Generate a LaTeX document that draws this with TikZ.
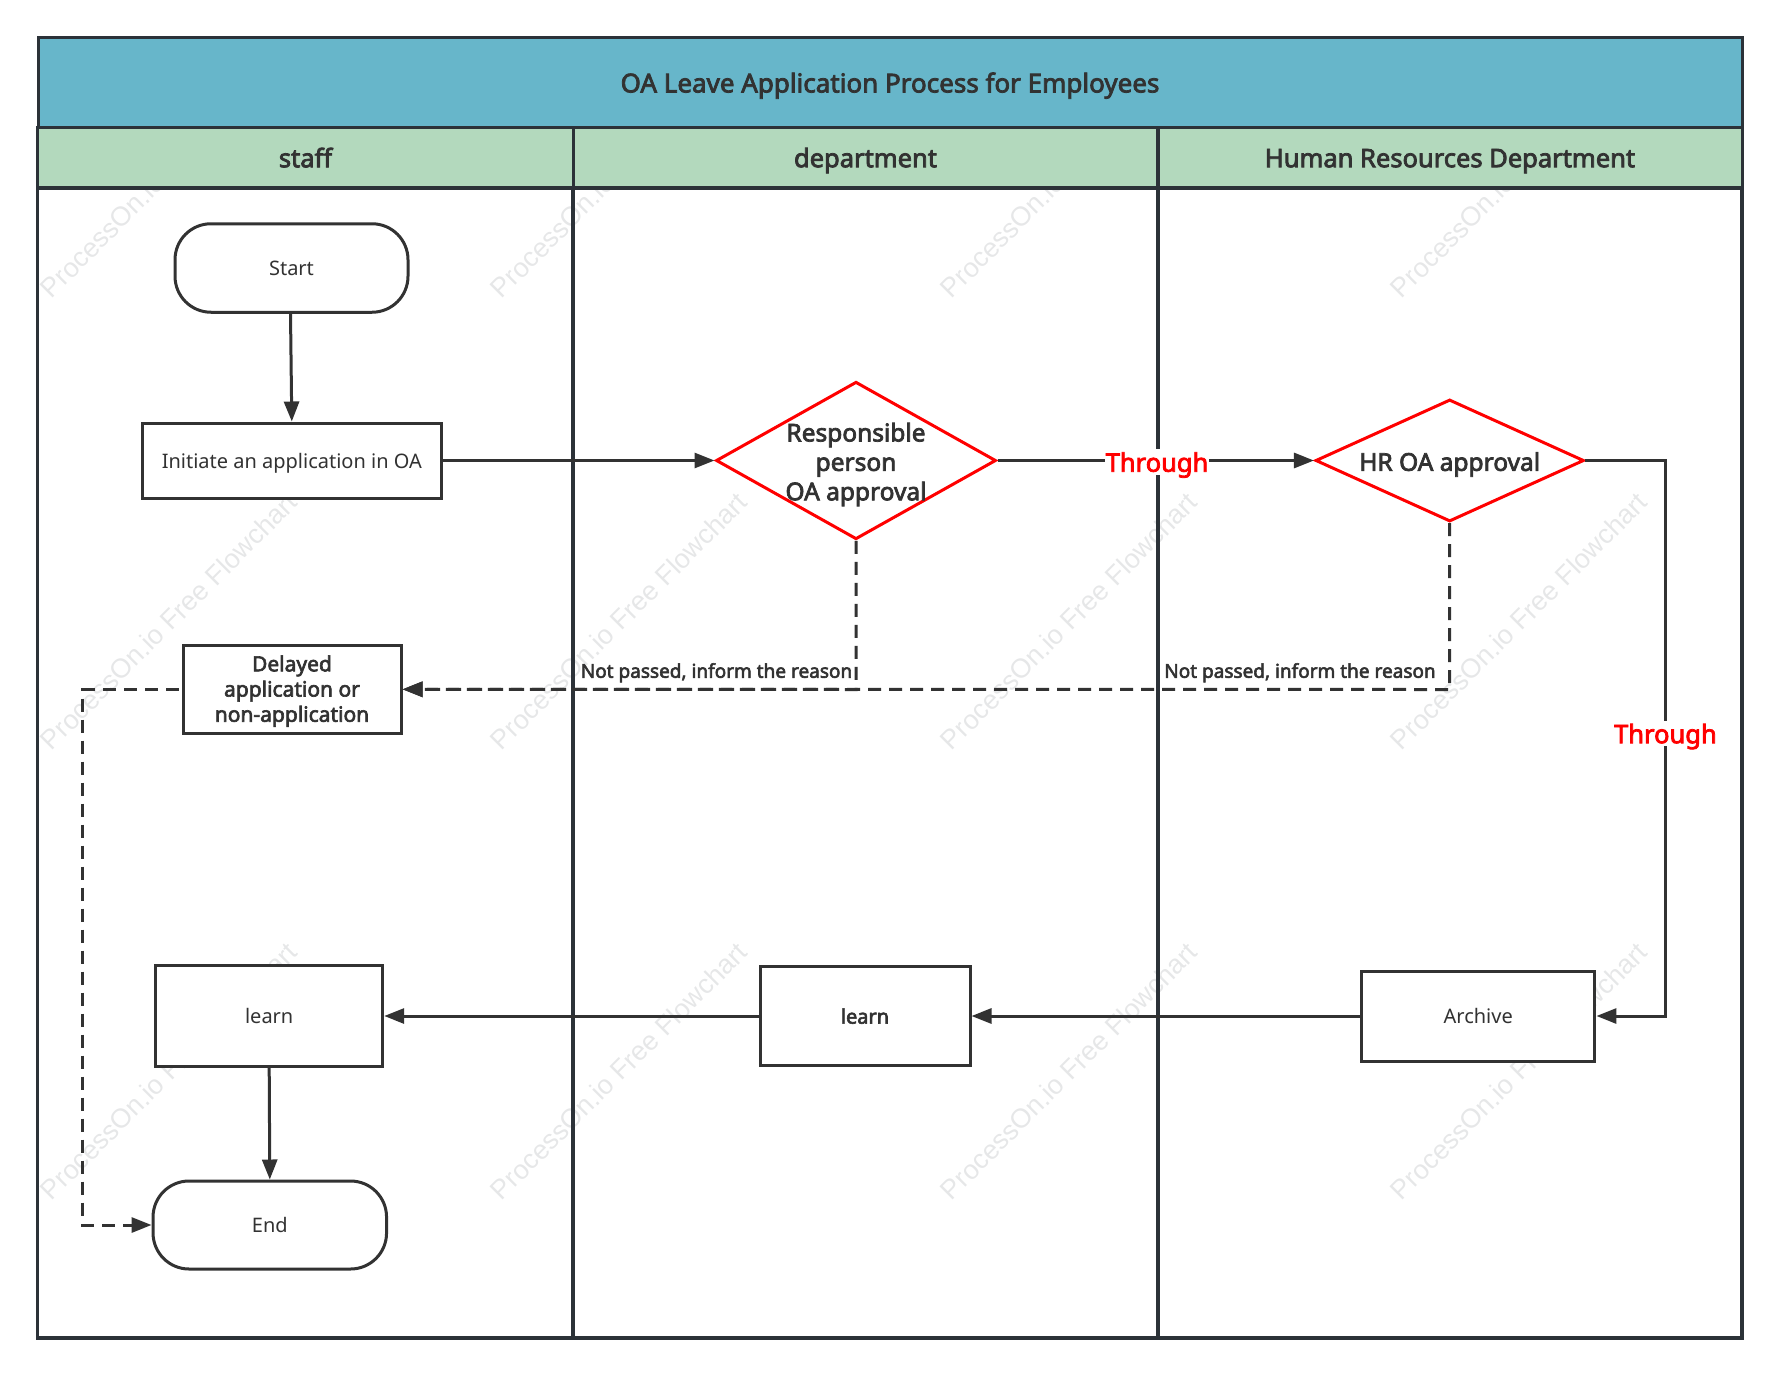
\documentclass[tikz,border=0pt]{standalone}
\usepackage{fontspec}
\setmainfont{Noto Sans}[BoldFont={Noto Sans},BoldFeatures={FakeBold=3}]
\newfontfamily\wmfont{Liberation Sans}
\usetikzlibrary{arrows.meta,shapes.geometric}
\definecolor{ink}{HTML}{323232}
\definecolor{frameink}{HTML}{2C3238}
\definecolor{titlefill}{HTML}{67B6CA}
\definecolor{lanefill}{HTML}{B3D9BD}
\definecolor{wmgrey}{HTML}{E6E7E8}
\newcommand{\fsz}[2][1.2]{\fontsize{#2}{#1\dimexpr #2pt\relax}\selectfont}
\tikzset{
  x=1pt,y=-1pt,
  oneline/.style={text depth=0pt,execute at begin node=\vphantom{l}},
  lane/.style={draw=frameink,line width=3pt,rectangle,inner sep=0pt},
  lanehead/.style={lane,fill=lanefill,text=ink,font=\fsz{25.5}\bfseries,oneline},
  lanebody/.style={draw=frameink,line width=3.4pt,rectangle,inner sep=0pt},
  box/.style={draw=ink,line width=3pt,fill=white,rectangle,inner sep=0pt,text=ink,align=center,font=\fsz{20}},
  term/.style={box,rounded corners=36pt},
  dia/.style={draw=red,line width=3pt,fill=white,diamond,inner sep=0pt,shape aspect=1.8},
  diatext/.style={text=ink,align=center,inner sep=0pt,font=\fsz{24.5}\bfseries},
  flow/.style={draw=ink,line width=3pt,-{Triangle[length=20pt,width=15pt]}},
  noflow/.style={flow,dash pattern=on 13pt off 8pt},
  through/.style={fill=white,text=red,font=\fsz{25.5}\bfseries,inner xsep=1pt,inner ysep=3pt,oneline},
  reason/.style={text=ink,font=\fsz{19}\bfseries,inner sep=0pt,oneline},
  wm/.style={text=wmgrey,font=\wmfont\fsz{27},rotate=45,anchor=west,inner sep=0pt},
}
\begin{document}
\begin{tikzpicture}
\useasboundingbox (0,0) rectangle (1779,1375);
% watermarks
\foreach \c/\xx in {a/45,b/495,c/945,d/1395}{
  \foreach \r/\yy in {1/293,2/745,3/1195}{
    \node[wm] (wm\c\r) at (\xx,\yy) {ProcessOn.io Free Flowchart};
  }
}
% lanes
\node[lanebody,minimum width=536pt,minimum height=1150pt] (bodyA) at (305.5,763) {};
\node[lanebody,minimum width=585pt,minimum height=1150pt] (bodyB) at (865.5,763) {};
\node[lanebody,minimum width=584pt,minimum height=1150pt] (bodyC) at (1450,763) {};
\node[lanehead,minimum width=535.5pt,minimum height=60pt] (headA) at (305.5,157.5) {staff};
\node[lanehead,minimum width=584.5pt,minimum height=60pt] (headB) at (865.5,157.5) {department};
\node[lanehead,minimum width=584pt,minimum height=60pt] (headC) at (1450,157.5) {Human Resources Department};
\node[lane,fill=titlefill,text=ink,font=\fsz{26}\bfseries,oneline,minimum width=1704pt,minimum height=90pt] (title) at (890,82.5) {OA Leave Application Process for Employees};
% nodes
\node[term,oneline,minimum width=233pt,minimum height=88.5pt] (start) at (291.5,268) {Start};
\node[box,oneline,minimum width=299.5pt,minimum height=75pt] (init) at (291.8,460.5) {Initiate an application in OA};
\node[dia,minimum width=280pt,minimum height=157.5pt] (d1) at (856,460.5) {};
\node[diatext] (d1t) at (856,464.5) {Responsible\\person\\OA approval};
\node[dia,minimum width=268.5pt,minimum height=122pt] (d2) at (1449.7,460.5) {};
\node[diatext,oneline] (d2t) at (1449.7,461.5) {HR OA approval};
\node[box,font=\fsz{21}\bfseries,minimum width=218pt,minimum height=88.5pt] (delay) at (292,689.3) {\rule{0pt}{19.5pt}Delayed\\application or\\non-application};
\node[box,oneline,minimum width=227pt,minimum height=100.5pt] (learnA) at (269.2,1016) {learn};
\node[box,oneline,font=\fsz{20}\bfseries,minimum width=210pt,minimum height=98.5pt] (learnB) at (865,1016) {learn};
\node[box,oneline,minimum width=233.5pt,minimum height=90pt] (arch) at (1478.2,1016) {Archive};
\node[term,oneline,minimum width=233.5pt,minimum height=88pt] (end) at (269.8,1225) {End};
% helper coordinates
\coordinate (kneeL1) at (856,689.5);
\coordinate (kneeL2) at (1449.7,689.5);
\coordinate (kneeR1) at (1665.4,460.5);
\coordinate (kneeR2) at (1665.4,1016);
\coordinate (kneeD1) at (82.7,689.3);
\coordinate (kneeD2) at (82.7,1225);
% connectors
\draw[flow] ([xshift=-1pt]start.south) -- (init.north);
\draw[flow] (init.east) -- (d1.west);
\draw[flow] (d1.east) -- (d2.west);
\draw[flow] (d2.east) -- (kneeR1) -- (kneeR2) -- (arch.east);
\draw[flow] (arch.west) -- (learnB.east);
\draw[flow] (learnB.west) -- (learnA.east);
\draw[flow] (learnA.south) -- (end.north);
\draw[noflow] (d1.south) -- (kneeL1) -- (delay.east);
\draw[noflow] (d2.south) -- (kneeL2) -- (delay.east);
\draw[noflow] ([xshift=-3pt]delay.west) -- (kneeD1) -- (kneeD2) -- (end.west);
% labels
\node[through] (t1) at (1157,462) {Through};
\node[through] (t2) at (1665.4,733.5) {Through};
\node[reason] (r1) at (716.5,670.5) {Not passed, inform the reason};
\node[reason] (r2) at (1300,670.5) {Not passed, inform the reason};
\end{tikzpicture}
\end{document}
